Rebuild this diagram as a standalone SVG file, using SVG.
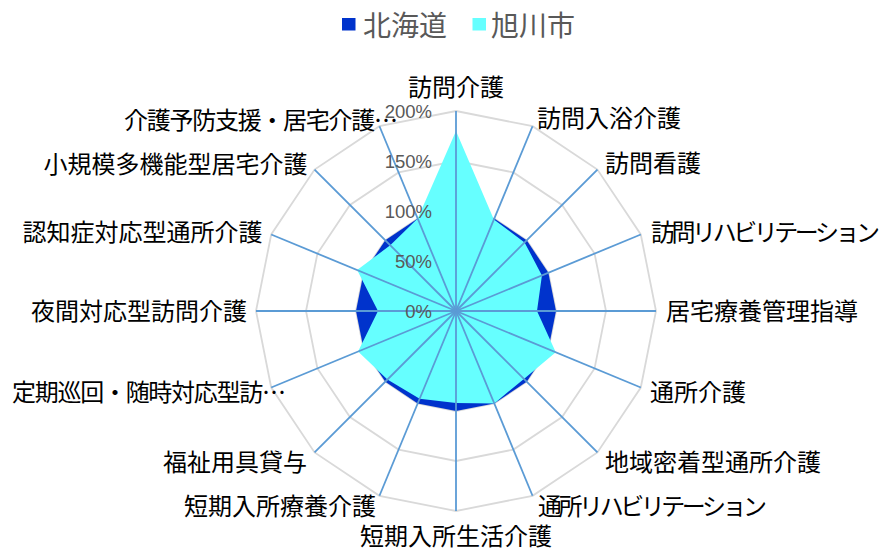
<svg xmlns="http://www.w3.org/2000/svg" width="881" height="548" viewBox="0 0 881 548">
<style>
.ring{fill:none;stroke:#d9d9d9;stroke-width:1.8}
.spoke{stroke:#5b9bd5;stroke-width:1.8}
.lbl{font-family:"Noto Sans CJK JP","Noto Sans",sans-serif;font-size:24px;fill:#000}
.pct{font-family:"Liberation Sans",Arial,sans-serif;font-size:18.5px;fill:#595959;text-anchor:end}
.leg{font-family:"Noto Sans CJK JP","Noto Sans",sans-serif;font-size:28px;fill:#595959}
</style>
<rect width="881" height="548" fill="#fff"/>
<g id="grid">
<polygon class="ring" points="456,261 475.13,264.81 491.36,275.64 502.19,291.87 506,311 502.19,330.13 491.36,346.36 475.13,357.19 456,361 436.87,357.19 420.64,346.36 409.81,330.13 406,311 409.81,291.87 420.64,275.64 436.87,264.81"/>
<polygon class="ring" points="456,211 494.27,218.61 526.71,240.29 548.39,272.73 556,311 548.39,349.27 526.71,381.71 494.27,403.39 456,411 417.73,403.39 385.29,381.71 363.61,349.27 356,311 363.61,272.73 385.29,240.29 417.73,218.61"/>
<polygon class="ring" points="456,161 513.40,172.42 562.07,204.93 594.58,253.60 606,311 594.58,368.40 562.07,417.07 513.40,449.58 456,461 398.60,449.58 349.93,417.07 317.42,368.40 306,311 317.42,253.60 349.93,204.93 398.60,172.42"/>
<polygon class="ring" points="456,111 532.54,126.22 597.42,169.58 640.78,234.46 656,311 640.78,387.54 597.42,452.42 532.54,495.78 456,511 379.46,495.78 314.58,452.42 271.22,387.54 256,311 271.22,234.46 314.58,169.58 379.46,126.22"/>
</g>
<g id="series-hokkaido">
<polygon fill="#0033cc" points="456,211 494.27,218.61 526.71,240.29 548.39,272.73 556,311 548.39,349.27 526.71,381.71 494.27,403.39 456,411 417.73,403.39 385.29,381.71 363.61,349.27 356,311 363.61,272.73 385.29,240.29 417.73,218.61"/>
</g>
<g id="series-asahikawa">
<polygon fill="#66ffff" points="456,131 493.89,219.54 524.59,242.41 541.92,275.41 537,311 555.78,352.33 523.88,378.88 494.27,403.39 456,403 419.65,398.77 387.41,379.59 358.07,351.56 378,311 357.14,270.05 390.24,245.24 417.73,218.61"/>
</g>
<g id="connectors">
<line class="spoke" x1="456" y1="311" x2="456" y2="111"/>
<line class="spoke" x1="456" y1="311" x2="532.54" y2="126.22"/>
<line class="spoke" x1="456" y1="311" x2="597.42" y2="169.58"/>
<line class="spoke" x1="456" y1="311" x2="640.78" y2="234.46"/>
<line class="spoke" x1="456" y1="311" x2="656" y2="311"/>
<line class="spoke" x1="456" y1="311" x2="640.78" y2="387.54"/>
<line class="spoke" x1="456" y1="311" x2="597.42" y2="452.42"/>
<line class="spoke" x1="456" y1="311" x2="532.54" y2="495.78"/>
<line class="spoke" x1="456" y1="311" x2="456" y2="511"/>
<line class="spoke" x1="456" y1="311" x2="379.46" y2="495.78"/>
<line class="spoke" x1="456" y1="311" x2="314.58" y2="452.42"/>
<line class="spoke" x1="456" y1="311" x2="271.22" y2="387.54"/>
<line class="spoke" x1="456" y1="311" x2="256" y2="311"/>
<line class="spoke" x1="456" y1="311" x2="271.22" y2="234.46"/>
<line class="spoke" x1="456" y1="311" x2="314.58" y2="169.58"/>
<line class="spoke" x1="456" y1="311" x2="379.46" y2="126.22"/>
</g>
<g id="axis-values">
<text class="pct" x="432" y="117.5">200%</text>
<text class="pct" x="432" y="167.5">150%</text>
<text class="pct" x="432" y="217.5">100%</text>
<text class="pct" x="432" y="267.5">50%</text>
<text class="pct" x="432" y="317.5">0%</text>
</g>
<g id="labels">
<text id="n0" class="lbl" x="456" y="96" text-anchor="middle">訪問介護</text>
<text id="n1" class="lbl" x="537" y="127">訪問入浴介護</text>
<text id="n2" class="lbl" x="605" y="172">訪問看護</text>
<text id="n3" class="lbl" x="651" y="241" textLength="229">訪問リハビリテーション</text>
<text id="n4" class="lbl" x="666" y="320">居宅療養管理指導</text>
<text id="n5" class="lbl" x="650" y="401">通所介護</text>
<text id="n6" class="lbl" x="605" y="471">地域密着型通所介護</text>
<text id="n7" class="lbl" x="538" y="515" textLength="229">通所リハビリテーション</text>
<text id="n8" class="lbl" x="456" y="545" text-anchor="middle">短期入所生活介護</text>
<text id="n9" class="lbl" x="376" y="515" text-anchor="end">短期入所療養介護</text>
<text id="n10" class="lbl" x="307" y="471" text-anchor="end">福祉用具貸与</text>
<text id="n11" class="lbl" x="12" y="401" textLength="274">定期巡回・随時対応型訪…</text>
<text id="n12" class="lbl" x="247" y="320" text-anchor="end">夜間対応型訪問介護</text>
<text id="n13" class="lbl" x="262.5" y="241" text-anchor="end">認知症対応型通所介護</text>
<text id="n14" class="lbl" x="307.5" y="173" text-anchor="end">小規模多機能型居宅介護</text>
<text id="n15" class="lbl" x="124" y="129" textLength="274">介護予防支援・居宅介護…</text>
</g>
<g id="legend">
<rect x="342" y="18" width="13.5" height="12.5" fill="#0033cc"/>
<text class="leg" x="363" y="35.5">北海道</text>
<rect x="472.5" y="18" width="13.5" height="12.5" fill="#66ffff"/>
<text class="leg" x="491" y="35.5">旭川市</text>
</g>
</svg>
